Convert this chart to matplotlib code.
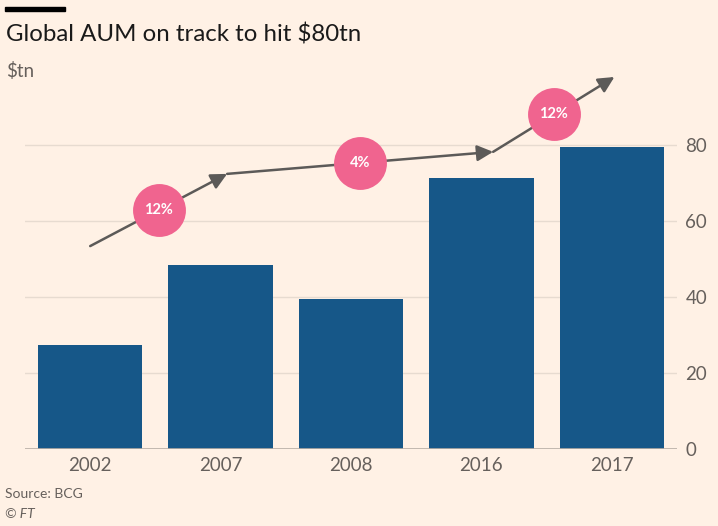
import matplotlib
matplotlib.use("Agg")
from matplotlib import pyplot as plt
import numpy as np

# data
years = ["2002", "2007", "2008", "2016", "2017"]
aum = [27.4, 48.4, 39.5, 71.3, 79.5]
# growth arrow path (x in bar index units, y in $tn)
trend_x = [0.0, 1.05, 3.09, 4.02]
trend_y = [53.4, 72.4, 78.2, 97.9]
growth = ["12%", "4%", "12%"]
yticks = [0, 20, 40, 60, 80]

BG = "#fff1e5"
BAR = "#165788"
PINK = "#f0648f"
GREY = "#66605c"
ARROW = "#5c5a58"

plt.rcParams['font.family'] = ['Lato', 'DejaVu Sans']

fig = plt.figure(figsize=(7.18, 5.26), dpi=100, facecolor=BG)
ax = fig.add_axes([25/718, 77/526, 652/718, 380/526], facecolor=BG)

x = np.arange(len(years))
ax.bar(x, aum, width=0.8, color=BAR, zorder=2)

ax.set_xlim(-0.5, 4.5)
ax.set_ylim(0, 100)
ax.set_yticks(yticks)
ax.set_xticks(x)
ax.set_xticklabels(years)
ax.yaxis.tick_right()
ax.tick_params(axis='both', length=0, labelsize=13.5, labelcolor=GREY)
ax.tick_params(axis='y', pad=6)
ax.tick_params(axis='x', pad=6)
for t in yticks[1:]:
    ax.axhline(t, color="#e7dbd0", lw=1, zorder=1)
ax.axhline(0, color="#b8aea6", lw=1.2, zorder=3)
for s in ax.spines.values():
    s.set_visible(False)

# growth arrows, one segment each
for i in range(len(trend_x) - 1):
    ax.annotate("", xy=(trend_x[i+1], trend_y[i+1]), xytext=(trend_x[i], trend_y[i]),
                arrowprops=dict(arrowstyle="-|>,head_length=0.6,head_width=0.3",
                                color=ARROW, lw=1.8,
                                mutation_scale=16, shrinkA=0, shrinkB=0),
                zorder=4, annotation_clip=False)
    mx = (trend_x[i] + trend_x[i+1]) / 2
    my = (trend_y[i] + trend_y[i+1]) / 2
    ax.scatter(mx, my, s=1450, color=PINK, zorder=5, clip_on=False, linewidths=0)
    ax.text(mx, my, growth[i], color="white", fontsize=10.5, fontweight="bold",
            ha="center", va="center", zorder=6)

# header / footer
fig.patches.append(plt.Rectangle((5/718, 1 - 11/526), 60/718, 4/526,
                                 transform=fig.transFigure, color="black"))
fig.text(6/718, 1 - 42/526, "Global AUM on track to hit $80tn", fontsize=17.3,
         color="#1a1a1a", ha="left", va="baseline")
fig.text(6/718, 1 - 77/526, "$tn", fontsize=13.5, color=GREY, ha="left", va="baseline")
fig.text(5/718, 1 - 498/526, "Source: BCG", fontsize=10, color=GREY, ha="left", va="baseline")
fig.text(5/718, 1 - 518/526, "© FT", fontsize=10, color=GREY, style="italic",
         ha="left", va="baseline")

fig.savefig("out.png", dpi=100, facecolor=BG)
